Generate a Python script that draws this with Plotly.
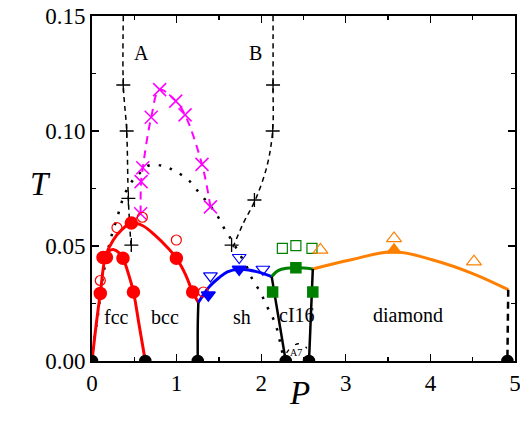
import plotly.graph_objects as go

# ---------------- data ----------------
# red melting line (fcc/bcc - liquid)
melt_P = [0.0, 0.05, 0.10, 0.16, 0.25, 0.35, 0.465, 0.6, 0.75, 0.90, 0.997, 1.10, 1.19, 1.257]
melt_T = [0.0, 0.016, 0.030, 0.0455, 0.0525, 0.057, 0.060, 0.0588, 0.0545, 0.049, 0.0447, 0.038, 0.030, 0.0254]
# red fcc-bcc line
fccbcc_P = [0.16, 0.20, 0.26, 0.32, 0.366, 0.43, 0.49, 0.56, 0.63]
fccbcc_T = [0.0455, 0.0478, 0.0484, 0.047, 0.0447, 0.038, 0.030, 0.015, 0.0]
# blue line
sh_P = [1.257, 1.32, 1.40, 1.50, 1.60, 1.74, 1.85, 2.0, 2.124]
sh_T = [0.0254, 0.029, 0.0328, 0.0362, 0.0388, 0.0399, 0.0396, 0.0383, 0.0367]
# green line
ci16_P = [2.124, 2.20, 2.30, 2.41, 2.50, 2.61]
ci16_T = [0.0367, 0.0393, 0.0403, 0.0405, 0.0404, 0.040]
# orange line
dia_P = [2.61, 3.05, 3.57, 4.03, 4.515, 4.92]
dia_T = [0.040, 0.0439, 0.0475, 0.0439, 0.0378, 0.031]
# black solid boundaries
bcc_sh_P = [1.257, 1.25, 1.25]
bcc_sh_T = [0.0254, 0.015, 0.0]
sh_ci_P = [2.124, 2.29]
sh_ci_T = [0.0367, 0.0]
ci_dia_P = [2.61, 2.565]
ci_dia_T = [0.040, 0.0]
# black dashed end of diamond
dia_end_P = [4.92, 4.91]
dia_end_T = [0.031, 0.0]
# A7 small arc
a7_P = [2.30, 2.36, 2.44, 2.50, 2.54]
a7_T = [0.0035, 0.0062, 0.0075, 0.0070, 0.0055]
# dotted black curve
dot_P = [0.0, 0.03, 0.07, 0.11, 0.16, 0.22, 0.315, 0.37, 0.45, 0.547, 0.67, 0.84, 0.98, 1.14,
         1.27, 1.39, 1.49, 1.57, 1.66, 1.74, 1.83, 1.90, 1.99, 2.06, 2.14, 2.19, 2.23, 2.27]
dot_T = [0.0, 0.010, 0.020, 0.032, 0.043, 0.053, 0.0645, 0.071, 0.077, 0.081, 0.085, 0.0848,
         0.0826, 0.0787, 0.073, 0.0678, 0.0627, 0.0572, 0.052, 0.0468, 0.041, 0.0352, 0.030,
         0.0243, 0.0186, 0.0135, 0.007, 0.0]
# dashed line A
A_line_P = [0.37, 0.37, 0.41, 0.43, 0.465]
A_line_T = [0.15, 0.12, 0.10, 0.07, 0.048]
A_pts_P = [0.37, 0.41, 0.43, 0.465]
A_pts_T = [0.12, 0.10, 0.0707, 0.0504]
# dashed line B
B_line_P = [2.14, 2.14, 2.135, 2.07, 1.93, 1.79, 1.65]
B_line_T = [0.15, 0.12, 0.10, 0.085, 0.07, 0.06, 0.048]
B_pts_P = [2.14, 2.136, 1.92, 1.65]
B_pts_T = [0.12, 0.10, 0.070, 0.0504]
# magenta crosses
x_P = [0.575, 0.58, 0.60, 0.70, 0.80, 0.99, 1.10, 1.30, 1.40]
x_T = [0.064, 0.078, 0.084, 0.106, 0.118, 0.113, 0.107, 0.0855, 0.067]
# markers
red_fill_P = [0.098, 0.13, 0.17, 0.366, 0.465, 0.49, 0.997, 1.19]
red_fill_T = [0.0294, 0.045, 0.045, 0.0447, 0.060, 0.030, 0.0447, 0.030]
red_open_P = [0.098, 0.295, 0.595, 0.997, 1.316]
red_open_T = [0.035, 0.058, 0.0625, 0.0526, 0.030]
blk_P = [0.0, 0.63, 1.25, 2.29, 2.565, 4.91]
blk_T = [0.0, 0.0, 0.0, 0.0, 0.0, 0.0]
blue_fill_P = [1.375, 1.74]
blue_fill_T = [0.0287, 0.0399]
blue_open_P = [1.40, 1.74, 2.02]
blue_open_T = [0.037, 0.045, 0.0399]
grn_fill_P = [2.135, 2.41, 2.61]
grn_fill_T = [0.030, 0.0405, 0.030]
grn_open_P = [2.25, 2.41, 2.60]
grn_open_T = [0.049, 0.0502, 0.049]
org_open_P = [2.70, 3.57, 4.515]
org_open_T = [0.0483, 0.0533, 0.0432]
org_fill_P = [3.57]
org_fill_T = [0.0483]

phase_labels = ["fcc", "bcc", "sh", "cI16", "diamond", "A", "B"]
phase_P = [0.29, 0.86, 1.77, 2.42, 3.74, 0.59, 1.93]
phase_T = [0.0193, 0.0193, 0.0193, 0.020, 0.020, 0.134, 0.134]

x_ticks = [0, 1, 2, 3, 4, 5]
y_ticks = [0.0, 0.05, 0.10, 0.15]

RED = "#ff0000"
BLUE = "#0000ff"
GREEN = "#008000"
ORANGE = "#ff8000"
MAG = "#ff00ff"
FONT = "Liberation Serif"

fig = go.Figure()

def line(x, y, color, width=3, dash="solid", shape="spline"):
    fig.add_trace(go.Scatter(x=x, y=y, mode="lines",
                             line=dict(color=color, width=width, dash=dash, shape=shape),
                             hoverinfo="skip"))

def marks(x, y, symbol, color, size, lw=1.5):
    fig.add_trace(go.Scatter(x=x, y=y, mode="markers",
                             marker=dict(symbol=symbol, color=color, size=size,
                                         line=dict(color=color, width=lw)),
                             hoverinfo="skip"))

line(dot_P, dot_T, "black", 2.5, "2.5px,9px")
line(A_line_P, A_line_T, "black", 1.5, "5px,4px")
line(B_line_P, B_line_T, "black", 1.5, "5px,4px")
line(x_P, x_T, MAG, 2, "8px,6px")
line(melt_P, melt_T, RED, 3)
line(fccbcc_P, fccbcc_T, RED, 3)
line(sh_P, sh_T, BLUE, 3)
line(ci16_P, ci16_T, GREEN, 3)
line(dia_P, dia_T, ORANGE, 3)
line(bcc_sh_P, bcc_sh_T, "black", 2.5)
line(sh_ci_P, sh_ci_T, "black", 2.5, shape="linear")
line(ci_dia_P, ci_dia_T, "black", 2.5, shape="linear")
line(dia_end_P, dia_end_T, "black", 2.5, "7px,5px", shape="linear")
line(a7_P, a7_T, "black", 1.3, "4px,8px")

marks(A_pts_P, A_pts_T, "cross-thin", "black", 10, 1.3)
marks(B_pts_P, B_pts_T, "cross-thin", "black", 10, 1.3)
marks(x_P, x_T, "x-thin", MAG, 13, 1.5)
marks(red_fill_P, red_fill_T, "circle", RED, 12)
marks(red_open_P, red_open_T, "circle-open", RED, 10, 1.2)
marks(blk_P, blk_T, "circle", "black", 11)
marks(blue_fill_P, blue_fill_T, "triangle-down", BLUE, 12)
marks(blue_open_P, blue_open_T, "triangle-down-open", BLUE, 12, 1.2)
marks(grn_fill_P, grn_fill_T, "square", GREEN, 10)
marks(grn_open_P, grn_open_T, "square-open", GREEN, 10, 1.2)
marks(org_open_P, org_open_T, "triangle-up-open", ORANGE, 13, 1.2)
marks(org_fill_P, org_fill_T, "triangle-up", ORANGE, 12)

for lab, px, ty in zip(phase_labels, phase_P, phase_T):
    fig.add_annotation(x=px, y=ty, text=lab, showarrow=False,
                       font=dict(family=FONT, size=20, color="black"))
fig.add_annotation(x=2.41, y=0.0035, text="A7", showarrow=False,
                   font=dict(family=FONT, size=10, color="black"))

# axis titles
fig.add_annotation(xref="paper", yref="paper", x=0.4905, y=-0.151, text="<i>P</i>",
                   showarrow=False, font=dict(family=FONT, size=33, color="black"))
fig.add_annotation(xref="paper", yref="paper", x=-0.151, y=0.514, text="<i>T</i>",
                   showarrow=False, font=dict(family=FONT, size=33, color="black"))

axis_common = dict(showgrid=False, zeroline=False, showline=True, linecolor="black",
                   linewidth=2, mirror="allticks", ticks="inside", ticklen=7,
                   tickwidth=1.3, tickcolor="black", automargin=False,
                   ticklabeloverflow="allow",
                   tickfont=dict(family=FONT, size=23, color="black"),
                   minor=dict(ticks="inside", ticklen=4, tickwidth=1.3, tickcolor="black"))

fig.update_xaxes(range=[0, 5], tickvals=x_ticks, ticktext=[str(v) for v in x_ticks],
                 minor_dtick=0.5, **axis_common)
fig.update_yaxes(range=[0, 0.15], tickvals=y_ticks, ticktext=[f"{v:.2f}" for v in y_ticks],
                 minor_dtick=0.025, **axis_common)

fig.update_layout(width=520, height=429, showlegend=False,
                  margin=dict(l=92, r=5, t=16, b=68),
                  plot_bgcolor="white", paper_bgcolor="white")

fig.write_html("out.html", config={"displayModeBar": False, "staticPlot": True},
               post_script="document.body.style.margin='0';document.body.style.overflow='hidden';")
